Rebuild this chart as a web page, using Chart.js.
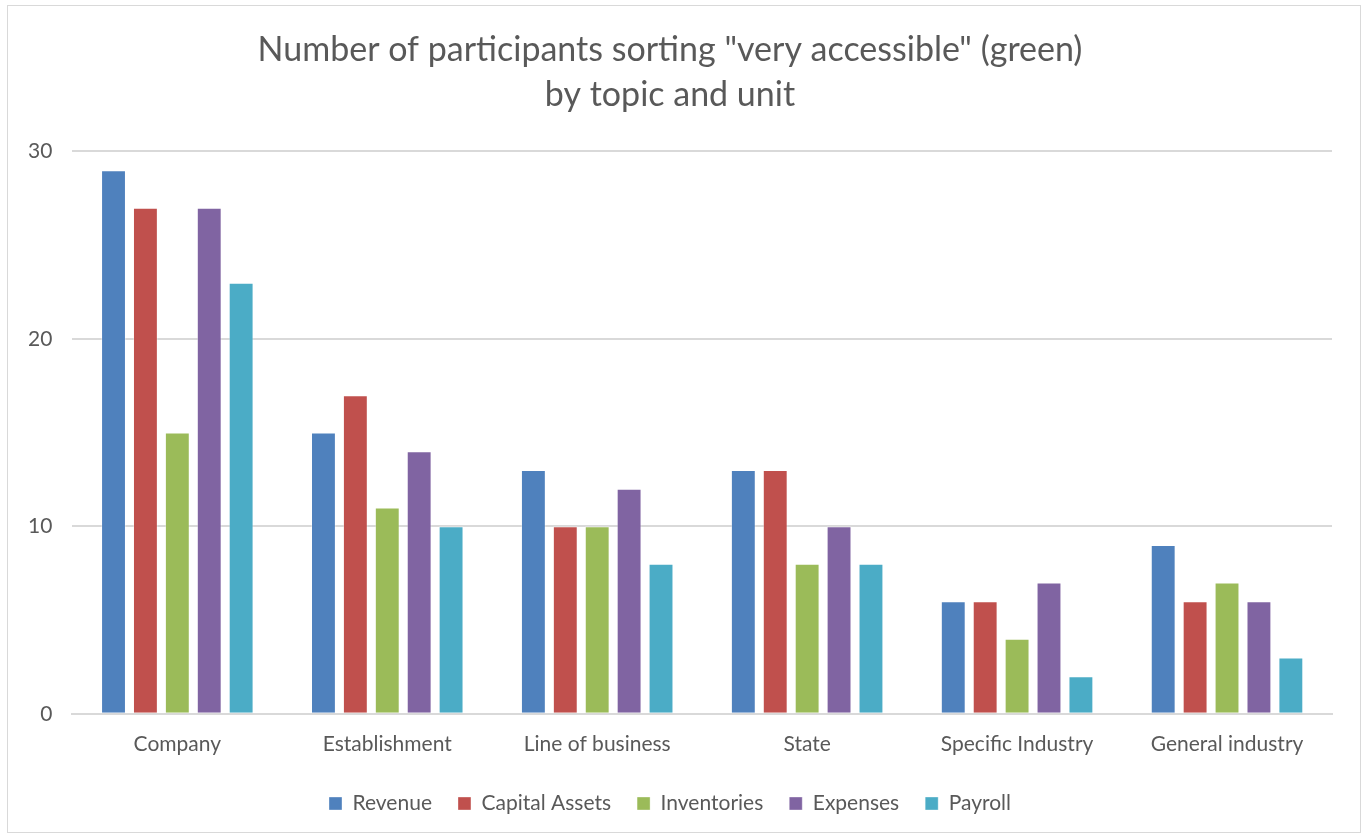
<!DOCTYPE html>
<html>
<head>
<meta charset="utf-8">
<script src="https://cdn.jsdelivr.net/npm/chart.js@4.4.0/dist/chart.umd.min.js"></script>
<style>
    html, body { margin: 0; padding: 0; background: #fff; }
    #frame {
        position: absolute;
        left: 7px; top: 5px;
        width: 1354px; height: 828px;
        border: 1px solid #d9d9d9;
        box-sizing: border-box;
    }
</style>
</head>
<body>
<div id="frame"><canvas id="chart"></canvas></div>
<script>
const categories = ['Company', 'Establishment', 'Line of business', 'State', 'Specific Industry', 'General industry'];

const revenue = [29, 15, 13, 13, 6, 9];
const capitalAssets = [27, 17, 10, 13, 6, 6];
const inventories = [15, 11, 10, 8, 4, 7];
const expenses = [27, 14, 12, 10, 7, 6];
const payroll = [23, 10, 8, 8, 2, 3];

const yTicks = [0, 10, 20, 30];

const textColor = '#595959';
const font = "Lato, 'Open Sans', sans-serif";

let ds = (label, data, color) => ({
    label: label,
    data: data,
    backgroundColor: color,
    borderColor: 'rgba(255,255,255,0.35)',
    borderWidth: 1,
    categoryPercentage: 0.76,
    barPercentage: 0.78,
});

new Chart(document.getElementById('chart'), {
    type: 'bar',
    data: {
        labels: categories,
        datasets: [
            ds('Revenue', revenue, '#4f81bd'),
            ds('Capital Assets', capitalAssets, '#c0504d'),
            ds('Inventories', inventories, '#9bbb59'),
            ds('Expenses', expenses, '#8064a2'),
            ds('Payroll', payroll, '#4bacc6'),
        ]
    },
    options: {
        responsive: true,
        maintainAspectRatio: false,
        animation: false,
        layout: { padding: { left: 0, right: 28, top: 5, bottom: 8 } },
        plugins: {
            title: {
                display: true,
                text: ['Number of participants sorting "very accessible" (green)', 'by topic and unit'],
                color: textColor,
                font: { family: font, size: 34, weight: 'normal', lineHeight: 1.33 },
                padding: { top: 16, bottom: 34 }
            },
            legend: {
                position: 'bottom',
                labels: {
                    color: textColor,
                    font: { family: font, size: 21 },
                    boxWidth: 13,
                    boxHeight: 13,
                    padding: 26
                }
            },
            tooltip: { enabled: false }
        },
        scales: {
            x: {
                grid: { display: false },
                border: { color: '#d9d9d9', width: 2 },
                ticks: { color: textColor, font: { family: font, size: 21 }, padding: 10 }
            },
            y: {
                min: 0,
                max: 30,
                afterBuildTicks: axis => { axis.ticks = yTicks.map(v => ({ value: v })); },
                grid: { color: '#d9d9d9', lineWidth: 2, drawTicks: false },
                border: { display: false },
                ticks: { color: textColor, font: { family: font, size: 21 }, padding: 20 }
            }
        }
    }
});
</script>
</body>
</html>
